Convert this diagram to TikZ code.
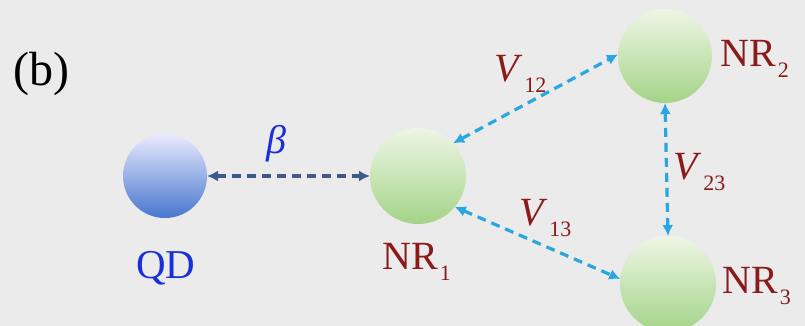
\documentclass[tikz,border=0pt]{standalone}
\usepackage{fontspec}
\setmainfont{Liberation Serif}
\usetikzlibrary{arrows.meta}
\definecolor{bgc}{HTML}{EBEBEB}
\definecolor{nrred}{HTML}{8B1A1A}
\definecolor{qdblue}{HTML}{1A2FD8}
\definecolor{betaarrow}{HTML}{3E5A8A}
\definecolor{cyanarrow}{HTML}{2AA6E0}
\definecolor{gtop}{HTML}{EEF6E6}
\definecolor{gbot}{HTML}{A4D488}
\newcommand\lsub[1]{\kern2pt\raisebox{-11pt}{\fontsize{22}{22}\selectfont #1}}
\tikzset{
  ball/.style={circle, minimum size=96pt, inner sep=0pt, outer sep=0pt},
  greenball/.style={ball, top color=gtop, bottom color=gbot},
  coup/.style={dash pattern=on 9pt off 6pt, line width=3.2pt, {Latex[length=11pt,width=11pt]}-{Latex[length=11pt,width=11pt]}},
  lab/.style={anchor=base west, inner sep=0pt, font=\fontsize{40}{44}\selectfont},
  nrlab/.style={lab, text=nrred},
}
\begin{document}
\begin{tikzpicture}[x=1pt,y=-1pt]
\fill[bgc] (0,0) rectangle (805,326);
\useasboundingbox (0,0) rectangle (805,326);
\node[lab, font=\fontsize{48}{52}\selectfont] (b) at (13,86) {(b)};
\node[ball, top color=blue!8!white, bottom color={rgb,255:red,70;green,118;blue,205}, minimum size=84pt] (qd) at (165,176) {};
\node[greenball] (nr1) at (418,176) {};
\node[greenball, minimum size=94pt] (nr2) at (665,56) {};
\node[greenball] (nr3) at (668,284) {};
\draw[coup, betaarrow] (qd.east) -- (nr1.west);
\draw[coup, cyanarrow] (nr1.43) -- (nr2.178);
\draw[coup, cyanarrow] (nr2.south) -- (nr3.north);
\draw[coup, cyanarrow] (nr1.-40) -- (nr3.174);
\node[lab, text=qdblue] (betal) at (266,153) {\textit{β}};
\node[lab, text=qdblue, font=\fontsize{41}{44}\selectfont] (qdl) at (136,278) {QD};
\node[nrlab] (nr1l) at (382,269) {NR\lsub{1}};
\node[nrlab] (nr2l) at (720,67) {NR\lsub{2}};
\node[nrlab] (nr3l) at (722,293) {NR\lsub{3}};
\node[nrlab] (v12) at (494,82) {\textit{V}\lsub{12}};
\node[nrlab] (v23) at (673,179) {\textit{V}\lsub{23}};
\node[nrlab] (v13) at (519,225) {\textit{V}\lsub{13}};
\end{tikzpicture}
\end{document}
